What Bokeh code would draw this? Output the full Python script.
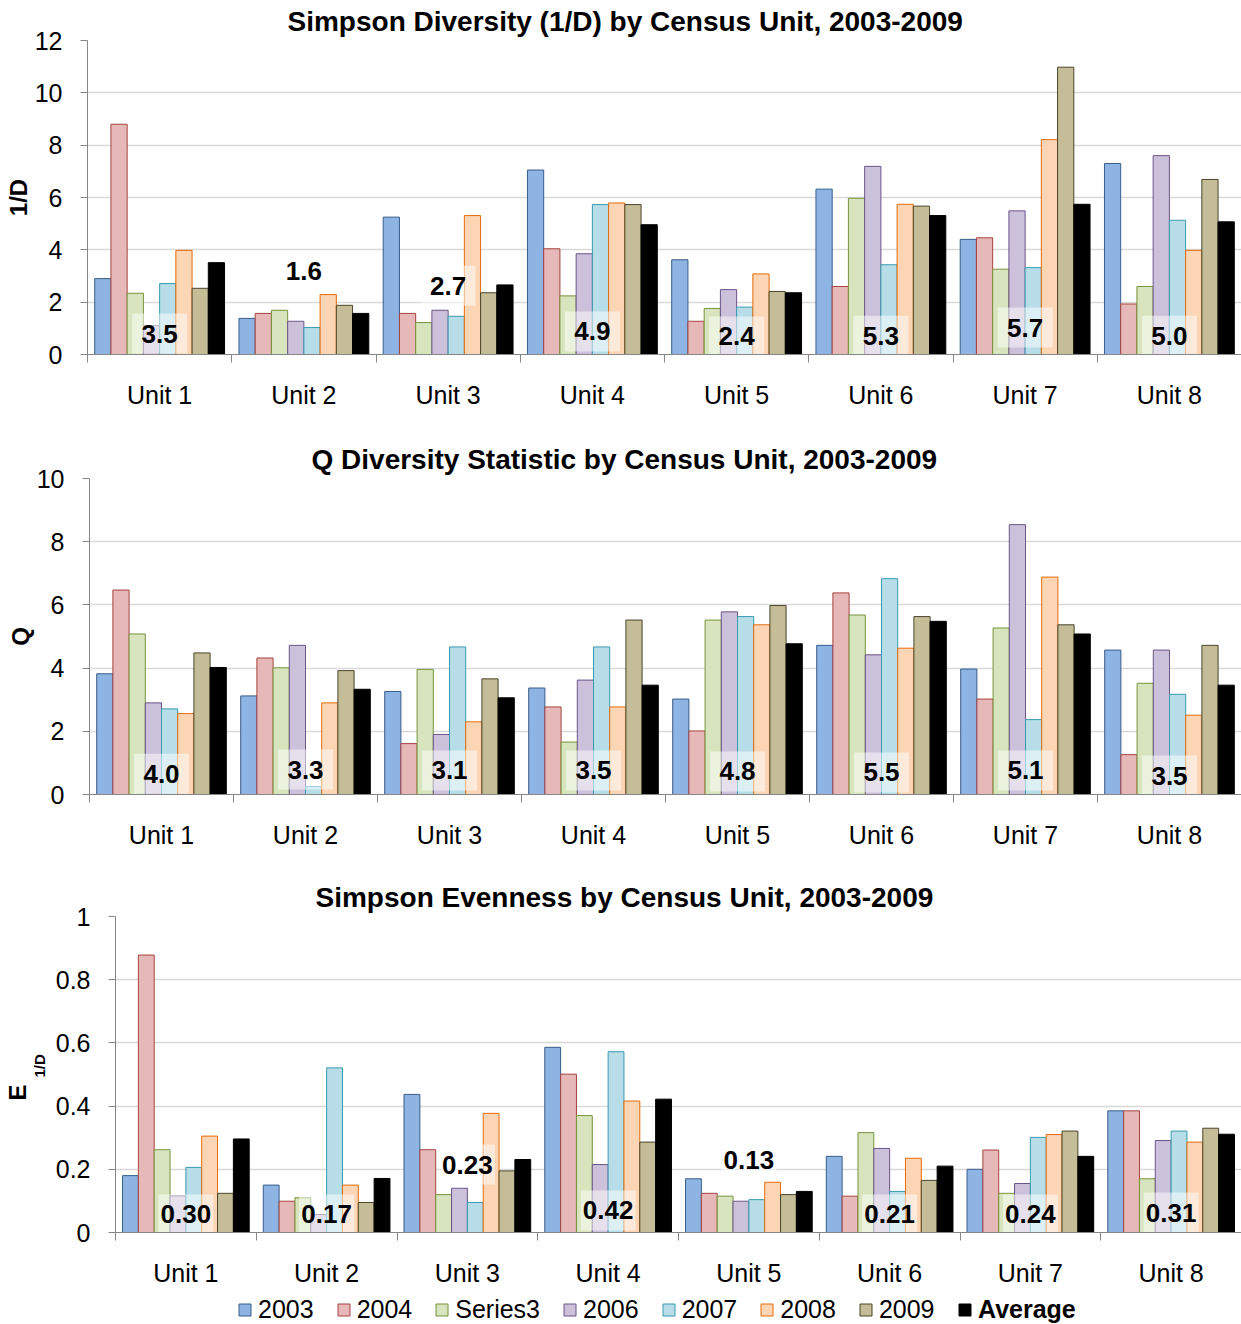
from bokeh.plotting import figure
from bokeh.models import (ColumnDataSource, Range1d, LinearAxis, FixedTicker, Legend,
                          LegendItem, NumeralTickFormatter, Title)
from bokeh.transform import dodge
from bokeh.core.properties import value
from bokeh.layouts import column
from bokeh.embed import file_html
from bokeh.resources import INLINE

# ---------------- data ----------------
units = ["Unit 1", "Unit 2", "Unit 3", "Unit 4", "Unit 5", "Unit 6", "Unit 7", "Unit 8"]
series_names = ["2003", "2004", "Series3", "2006", "2007", "2008", "2009", "Average"]

# Simpson Diversity (1/D)
invd_2003 = [2.90, 1.38, 5.25, 7.05, 3.62, 6.32, 4.40, 7.30]
invd_2004 = [8.80, 1.57, 1.57, 4.04, 1.27, 2.60, 4.46, 1.93]
invd_s3   = [2.34, 1.69, 1.22, 2.24, 1.76, 5.97, 3.26, 2.60]
invd_2006 = [1.10, 1.27, 1.69, 3.85, 2.48, 7.19, 5.49, 7.60]
invd_2007 = [2.71, 1.03, 1.46, 5.73, 1.81, 3.43, 3.32, 5.13]
invd_2008 = [3.98, 2.29, 5.31, 5.79, 3.08, 5.74, 8.21, 3.98]
invd_2009 = [2.53, 1.88, 2.36, 5.73, 2.41, 5.67, 10.98, 6.69]
invd_avg  = [3.51, 1.57, 2.66, 4.96, 2.36, 5.31, 5.74, 5.07]
invd_labels = ["3.5", "1.6", "2.7", "4.9", "2.4", "5.3", "5.7", "5.0"]
invd_label_y = [0.80, 3.20, 2.63, 0.88, 0.69, 0.72, 1.03, 0.72]

# Q Diversity Statistic
q_2003 = [3.82, 3.12, 3.26, 3.37, 3.02, 4.72, 3.97, 4.57]
q_2004 = [6.47, 4.32, 1.61, 2.77, 2.01, 6.38, 3.02, 1.26]
q_s3   = [5.08, 4.01, 3.96, 1.66, 5.52, 5.68, 5.27, 3.52]
q_2006 = [2.90, 4.72, 1.90, 3.62, 5.78, 4.42, 8.54, 4.57]
q_2007 = [2.71, 0.25, 4.67, 4.67, 5.63, 6.83, 2.37, 3.17]
q_2008 = [2.56, 2.90, 2.30, 2.77, 5.37, 4.63, 6.88, 2.51]
q_2009 = [4.48, 3.92, 3.66, 5.52, 5.98, 5.63, 5.37, 4.72]
q_avg  = [4.02, 3.33, 3.06, 3.46, 4.77, 5.48, 5.08, 3.46]
q_labels = ["4.0", "3.3", "3.1", "3.5", "4.8", "5.5", "5.1", "3.5"]
q_label_y = [0.66, 0.79, 0.76, 0.76, 0.73, 0.70, 0.76, 0.60]

# Simpson Evenness
e_2003 = [0.180, 0.150, 0.437, 0.586, 0.170, 0.241, 0.200, 0.385]
e_2004 = [0.878, 0.099, 0.262, 0.501, 0.124, 0.115, 0.261, 0.385]
e_s3   = [0.262, 0.110, 0.120, 0.370, 0.115, 0.316, 0.124, 0.170]
e_2006 = [0.116, 0.057, 0.140, 0.215, 0.099, 0.266, 0.155, 0.291]
e_2007 = [0.206, 0.521, 0.095, 0.572, 0.104, 0.130, 0.301, 0.321]
e_2008 = [0.305, 0.150, 0.377, 0.416, 0.159, 0.235, 0.310, 0.286]
e_2009 = [0.124, 0.095, 0.195, 0.286, 0.120, 0.165, 0.321, 0.330]
e_avg  = [0.296, 0.171, 0.231, 0.422, 0.130, 0.210, 0.241, 0.311]
e_labels = ["0.30", "0.17", "0.23", "0.42", "0.13", "0.21", "0.24", "0.31"]
e_label_y = [0.057, 0.057, 0.215, 0.070, 0.231, 0.057, 0.057, 0.063]

# ---------------- style ----------------
FILLS = ["#8EB4E3", "#E6B9B8", "#D7E4BD", "#CCC1DA", "#B7DEE8", "#FCD5B5", "#C4BD97", "#000000"]
LINES = ["#385D8A", "#A5433F", "#77933C", "#6A5589", "#3A9AB0", "#E46C0A", "#4A452A", "#000000"]
FONT = "Liberation Sans"
AXIS_GRAY = "#868686"
GRID_GRAY = "#D9D9D9"
BAR_W = 0.1125
W = 1241

n_units = len(units)
centers = [i + 0.5 for i in range(n_units)]          # category centres on the x scale
bounds = list(range(n_units + 1))                    # category boundaries


def no_align(p):
    try:
        p.frame_align = False
    except Exception:
        pass


def make_chart(series, labels, label_y, ymax, ticks, height, bl, br, bt, bb, title,
               title_offset, fmt=None, ylabel=None):
    p = figure(width=W, height=height,
               x_range=Range1d(0, n_units), y_range=Range1d(0, ymax),
               output_backend="svg", toolbar_location=None,
               x_axis_location=None, y_axis_location=None,
               min_border_left=bl, min_border_right=br,
               min_border_top=bt, min_border_bottom=bb,
               outline_line_color=None, background_fill_color="white",
               border_fill_color="white")
    no_align(p)
    p.xgrid.grid_line_color = None
    p.ygrid.ticker = FixedTicker(ticks=ticks)
    p.ygrid.grid_line_color = GRID_GRAY
    p.ygrid.grid_line_width = 1.5

    # y axis
    yaxis = LinearAxis(ticker=FixedTicker(ticks=ticks), major_tick_out=7, major_tick_in=0,
                       minor_tick_line_color=None, axis_line_color=AXIS_GRAY,
                       major_tick_line_color=AXIS_GRAY,
                       major_label_text_font=FONT, major_label_text_font_size="25px",
                       major_label_text_color="black", major_label_standoff=18)
    if fmt is not None:
        yaxis.formatter = fmt
    if ylabel is not None:
        yaxis.axis_label = ylabel
        yaxis.axis_label_text_font = FONT
        yaxis.axis_label_text_font_size = "24px"
        yaxis.axis_label_text_font_style = "bold"
        yaxis.axis_label_text_color = "black"
        yaxis.axis_label_standoff = 0
    p.add_layout(yaxis, "left")

    # x axis: unit names at the category centres, boundary ticks as minor ticks
    xaxis = LinearAxis(ticker=FixedTicker(ticks=centers, minor_ticks=bounds),
                       major_label_overrides={c: u for c, u in zip(centers, units)},
                       axis_line_color=AXIS_GRAY, major_tick_line_color=None,
                       minor_tick_line_color=AXIS_GRAY, minor_tick_out=8, minor_tick_in=0,
                       major_tick_out=8, major_tick_in=0,
                       major_label_text_font=FONT, major_label_text_font_size="25px",
                       major_label_text_color="black", major_label_standoff=18)
    p.add_layout(xaxis, "below")

    data = {"unit": units, "pos": centers}
    for name, vals in zip(series_names, series):
        data[name] = vals
    src = ColumnDataSource(data)
    for i, name in enumerate(series_names):
        off = (i - 3.5) * BAR_W
        p.vbar(x=dodge("pos", off), top=name, width=BAR_W, bottom=0,
               source=src, fill_color=FILLS[i], line_color=LINES[i], line_width=1)

    lsrc = ColumnDataSource(dict(pos=centers, y=label_y, text=labels))
    p.rect(x="pos", y="y", width=55, height=40, width_units="screen", height_units="screen",
           source=lsrc, fill_color="white", fill_alpha=0.5, line_color=None)
    p.text(x="pos", y="y", text="text", source=lsrc, text_align="center",
           text_baseline="middle", text_font=value(FONT), text_font_size="26px",
           text_font_style="bold", text_color="black")

    p.add_layout(Title(text=title, align="left", offset=title_offset, standoff=7,
                       text_font=FONT, text_font_size="28px", text_font_style="bold",
                       text_color="black"), "above")
    return p


p1 = make_chart([invd_2003, invd_2004, invd_s3, invd_2006, invd_2007, invd_2008, invd_2009, invd_avg],
                invd_labels, invd_label_y, 12, [0, 2, 4, 6, 8, 10, 12],
                436, 87, 0, 39, 82,
                "Simpson Diversity (1/D) by Census Unit, 2003-2009", 200, ylabel="1/D")

p2 = make_chart([q_2003, q_2004, q_s3, q_2006, q_2007, q_2008, q_2009, q_avg],
                q_labels, q_label_y, 10, [0, 2, 4, 6, 8, 10],
                438, 89, 0, 42, 80,
                "Q Diversity Statistic by Census Unit, 2003-2009", 222, ylabel="Q")

p3 = make_chart([e_2003, e_2004, e_s3, e_2006, e_2007, e_2008, e_2009, e_avg],
                e_labels, e_label_y, 1, [0, 0.2, 0.4, 0.6, 0.8, 1],
                416, 115, 0, 42, 58,
                "Simpson Evenness by Census Unit, 2003-2009", 200,
                fmt=NumeralTickFormatter(format="0.[0]"))
p3.add_layout(Title(text="1/D", align="left", offset=155, standoff=10, text_font=FONT,
                    text_font_size="15px", text_font_style="bold", text_color="black"), "left")
p3.add_layout(Title(text="E", align="left", offset=132, standoff=-14, text_font=FONT,
                    text_font_size="24px", text_font_style="bold", text_color="black"), "left")

# ---------------- legend strip ----------------
pl = figure(width=W, height=34, x_range=Range1d(0, 1), y_range=Range1d(0, 1),
            output_backend="svg", toolbar_location=None,
            x_axis_location=None, y_axis_location=None,
            min_border_left=0, min_border_right=0, min_border_top=0, min_border_bottom=0,
            outline_line_color=None)
no_align(pl)
pl.xgrid.visible = False
pl.ygrid.visible = False
# legend proxies: one row with no bar height, so only the legend swatch is drawn
proxy = ColumnDataSource(dict(x=[0.5], top=[float("nan")]))
leg_r = [pl.vbar(x="x", top="top", width=0.1, source=proxy, fill_color=FILLS[i],
                 line_color=LINES[i], line_width=1) for i in range(len(series_names))]

legend_common = dict(orientation="horizontal", label_text_font=FONT, label_text_font_size="25px",
                     label_text_color="black", glyph_width=15, glyph_height=15,
                     label_standoff=6, spacing=22, padding=0, margin=0,
                     border_line_color=None, background_fill_alpha=0)
leg1 = Legend(items=[LegendItem(label=series_names[i], renderers=[leg_r[i]]) for i in range(7)],
              location=(237, 0), **legend_common)
leg2 = Legend(items=[LegendItem(label=series_names[7], renderers=[leg_r[7]])],
              location=(957, 0), label_text_font_style="bold", **legend_common)
pl.add_layout(leg1)
pl.add_layout(leg2)

layout = column(p1, p2, p3, pl, spacing=0)
open("out.html", "w").write(file_html(layout, INLINE))
